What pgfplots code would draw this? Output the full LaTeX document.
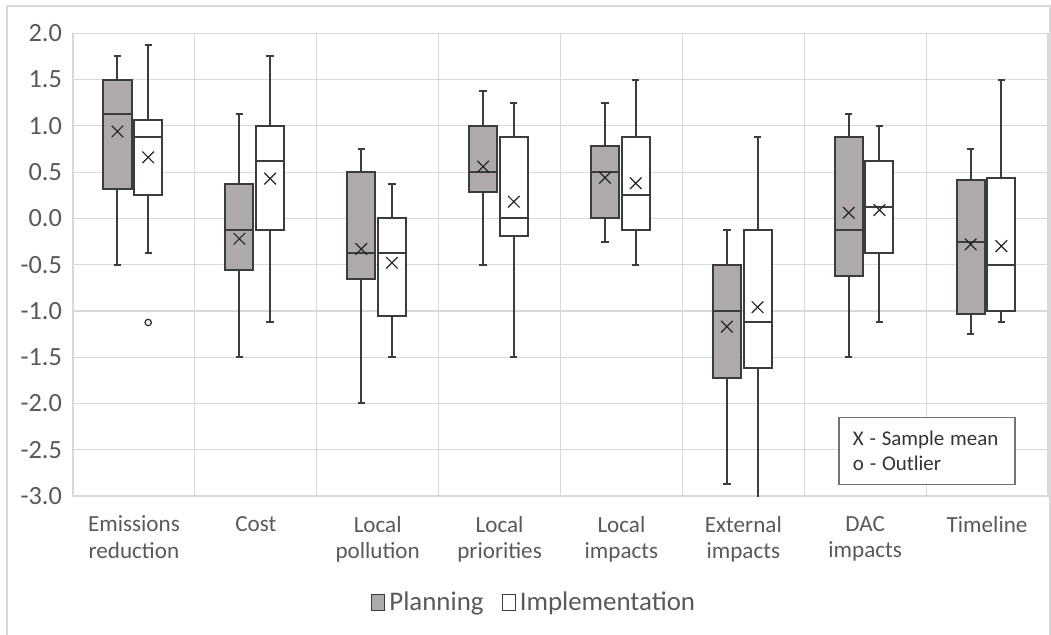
\documentclass[border=0pt]{standalone}
\usepackage{pgfplots}
\pgfplotsset{compat=1.18}
\usepgfplotslibrary{statistics}
\usepackage{fontspec}
\setmainfont{Carlito}

\definecolor{plangray}{RGB}{174,170,170}
\definecolor{txtgray}{RGB}{89,89,89}
\definecolor{gridgray}{RGB}{217,217,217}
\definecolor{boxline}{RGB}{60,60,60}

\pgfplotsset{
  basebox/.style={forget plot, draw=boxline, line width=1bp,
    boxplot/draw direction=y,
    boxplot/box extend=0.23, boxplot/whisker extend=0.06,
    boxplot/every whisker/.style={draw=boxline, line width=1bp},
    boxplot/every median/.style={draw=boxline, line width=1bp},
    boxplot/every box/.style={draw=boxline, line width=1bp}},
  planbox/.style={basebox, fill=plangray},
  implbox/.style={basebox, fill=white},
}

\begin{document}
\begin{tikzpicture}[x=1bp,y=1bp]
\useasboundingbox (0,0) rectangle (525.5,317);
\draw[gridgray, line width=0.6bp] (3.5,-5) rectangle (525,314);
\begin{axis}[
  at={(36.5bp,69bp)}, anchor=south west,
  scale only axis, width=487.5bp, height=231.35bp,
  xmin=-0.5, xmax=7.5, ymin=-3, ymax=2,
  xtick={0,1,2,3,4,5,6,7},
  xticklabels={{Emissions\\reduction},{Cost},{Local\\pollution},{Local\\priorities},{Local\\impacts},{External\\impacts},{DAC\\impacts},{Timeline}},
  minor xtick={-0.5,0.5,1.5,2.5,3.5,4.5,5.5,6.5,7.5},
  xminorgrids=true, xmajorgrids=false, ymajorgrids=true,
  ytick={-3,-2.5,-2,-1.5,-1,-0.5,0,0.5,1,1.5,2},
  grid style={gridgray, line width=0.6bp},
  minor grid style={gridgray, line width=0.6bp},
  axis line style={gridgray, line width=0.6bp},
  major tick length=0pt, minor tick length=0pt,
  yticklabel style={/pgf/number format/fixed, /pgf/number format/fixed zerofill,
    /pgf/number format/precision=1, /pgf/number format/assume math mode=true,
    font=\fontsize{13.2}{15}\selectfont, text=txtgray, xshift=-2bp},
  xticklabel style={font=\fontsize{11.6}{13.2}\selectfont, text=txtgray, align=center, anchor=north, yshift=-6.5bp},
  legend style={at={(rel axis cs:0.474,-0.231)}, anchor=center, draw=none, fill=none,
    legend columns=-1, font=\fontsize{13.5}{15}\selectfont, text=txtgray,
    /tikz/every even column/.append style={column sep=7bp}},
  legend image code/.code={\draw[#1, line width=0.6bp] (0bp,-4bp) rectangle (6.5bp,4bp);},
]
\addlegendimage{draw=boxline, fill=plangray}
\addlegendentry{Planning}
\addlegendimage{draw=boxline, fill=white}
\addlegendentry{Implementation}

% Planning
\addplot[planbox, boxplot prepared={draw position=-0.135, lower whisker=-0.5, lower quartile=0.3125, median=1.125, upper quartile=1.5, upper whisker=1.75}] coordinates {};
\addplot[planbox, boxplot prepared={draw position=0.865, lower whisker=-1.5, lower quartile=-0.5625, median=-0.125, upper quartile=0.375, upper whisker=1.125}] coordinates {};
\addplot[planbox, boxplot prepared={draw position=1.865, lower whisker=-2.0, lower quartile=-0.65, median=-0.375, upper quartile=0.5, upper whisker=0.75}] coordinates {};
\addplot[planbox, boxplot prepared={draw position=2.865, lower whisker=-0.5, lower quartile=0.28, median=0.5, upper quartile=1.0, upper whisker=1.375}] coordinates {};
\addplot[planbox, boxplot prepared={draw position=3.865, lower whisker=-0.25, lower quartile=0.0, median=0.5, upper quartile=0.78, upper whisker=1.25}] coordinates {};
\addplot[planbox, boxplot prepared={draw position=4.865, lower whisker=-2.875, lower quartile=-1.72, median=-1.0, upper quartile=-0.5, upper whisker=-0.125}] coordinates {};
\addplot[planbox, boxplot prepared={draw position=5.865, lower whisker=-1.5, lower quartile=-0.625, median=-0.125, upper quartile=0.875, upper whisker=1.125}] coordinates {};
\addplot[planbox, boxplot prepared={draw position=6.865, lower whisker=-1.25, lower quartile=-1.03, median=-0.25, upper quartile=0.41, upper whisker=0.75}] coordinates {};

% Implementation
\addplot[implbox, boxplot prepared={draw position=0.117, lower whisker=-0.375, lower quartile=0.25, median=0.875, upper quartile=1.06, upper whisker=1.875}] coordinates {};
\addplot[implbox, boxplot prepared={draw position=1.117, lower whisker=-1.125, lower quartile=-0.125, median=0.625, upper quartile=1.0, upper whisker=1.75}] coordinates {};
\addplot[implbox, boxplot prepared={draw position=2.117, lower whisker=-1.5, lower quartile=-1.06, median=-0.375, upper quartile=0.0, upper whisker=0.375}] coordinates {};
\addplot[implbox, boxplot prepared={draw position=3.117, lower whisker=-1.5, lower quartile=-0.19, median=0.0, upper quartile=0.875, upper whisker=1.25}] coordinates {};
\addplot[implbox, boxplot prepared={draw position=4.117, lower whisker=-0.5, lower quartile=-0.125, median=0.25, upper quartile=0.875, upper whisker=1.5}] coordinates {};
\addplot[implbox, boxplot prepared={draw position=5.117, lower whisker=-3.125, lower quartile=-1.62, median=-1.125, upper quartile=-0.125, upper whisker=0.875}] coordinates {};
\addplot[implbox, boxplot prepared={draw position=6.117, lower whisker=-1.125, lower quartile=-0.375, median=0.125, upper quartile=0.625, upper whisker=1.0}] coordinates {};
\addplot[implbox, boxplot prepared={draw position=7.117, lower whisker=-1.125, lower quartile=-1.0, median=-0.5, upper quartile=0.44, upper whisker=1.5}] coordinates {};

% Sample means
\addplot[forget plot, only marks, mark=x, mark size=4.1bp, mark options={line width=0.6bp, draw=black!85}] coordinates {
  (-0.135,0.94) (0.865,-0.22) (1.865,-0.33) (2.865,0.56) (3.865,0.44) (4.865,-1.17) (5.865,0.06) (6.865,-0.28)
  (0.117,0.66) (1.117,0.43) (2.117,-0.48) (3.117,0.18) (4.117,0.38) (5.117,-0.96) (6.117,0.09) (7.117,-0.30)
};

% Outlier
\addplot[forget plot, only marks, mark=o, mark size=1.6bp, mark options={line width=0.6bp, draw=black!85, fill=white}] coordinates {(0.117,-1.125)};

\node[draw=black!55, line width=0.6bp, fill=white, anchor=north west,
  inner xsep=7bp, text width=74bp, minimum height=33.7bp, align=left,
  font=\fontsize{10.5}{12.5}\selectfont, text=black!80]
  at (rel axis cs:0.785,0.171) {X\;-\;Sample\;mean\\o\;-\;Outlier};
\end{axis}
\end{tikzpicture}
\end{document}
